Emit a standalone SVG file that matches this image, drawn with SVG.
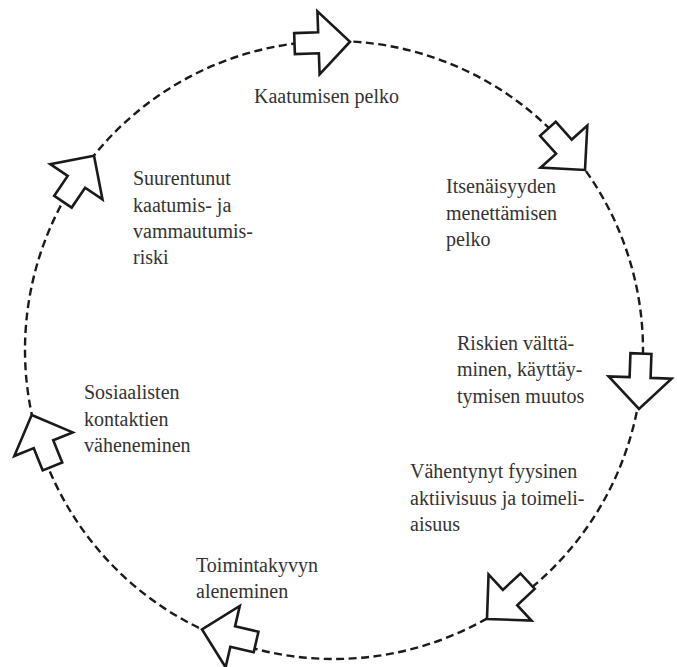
<svg xmlns="http://www.w3.org/2000/svg" width="677" height="667" viewBox="0 0 677 667">
<style>
.ring{fill:none;stroke:#1a1a1a;stroke-width:2.4;stroke-dasharray:8 4.5}
.arr{fill:#fff;stroke:#1a1a1a;stroke-width:2.6;stroke-linejoin:miter}
.lbl{fill:#333}
</style>
<defs>
<polygon id="arrow" class="arr" points="-55.5,-10.5 -31.5,-10.5 -31.5,-31.5 0,0 -31.5,31.5 -31.5,10.5 -55.5,10.5"/>
</defs>
<rect width="677" height="667" fill="#fff"/>
<g id="connectors">
<circle class="ring" cx="334" cy="350" r="309"/>
<use href="#arrow" transform="translate(350,41.7) rotate(-2)"/>
<use href="#arrow" transform="translate(585,170) rotate(48)"/>
<use href="#arrow" transform="translate(639,409) rotate(92)"/>
<use href="#arrow" transform="translate(487,619) rotate(137)"/>
<use href="#arrow" transform="translate(202,629.5) rotate(193)"/>
<use href="#arrow" transform="translate(31.7,415) rotate(248)"/>
<use href="#arrow" transform="translate(94,155.7) rotate(304)"/>
</g>
<g font-family="Liberation Serif, DejaVu Serif, serif" font-size="20">
<g id="node-kaatumisen-pelko">
<text class="lbl" x="254" y="102.5">Kaatumisen pelko</text>
</g>
<g id="node-itsenaisyyden">
<text class="lbl" x="446" y="193">Itsenäisyyden</text>
<text class="lbl" x="446" y="219.5">menettämisen</text>
<text class="lbl" x="446" y="246">pelko</text>
</g>
<g id="node-riskien">
<text class="lbl" x="457" y="349.5">Riskien välttä-</text>
<text class="lbl" x="457" y="376">minen, käyttäy-</text>
<text class="lbl" x="457" y="402.5">tymisen muutos</text>
</g>
<g id="node-vahentynyt">
<text class="lbl" x="410" y="478">Vähentynyt fyysinen</text>
<text class="lbl" x="410" y="504.5">aktiivisuus ja toimeli-</text>
<text class="lbl" x="410" y="531">aisuus</text>
</g>
<g id="node-toimintakyvyn">
<text class="lbl" x="196" y="571.5">Toimintakyvyn</text>
<text class="lbl" x="196" y="598">aleneminen</text>
</g>
<g id="node-sosiaalisten">
<text class="lbl" x="84" y="399">Sosiaalisten</text>
<text class="lbl" x="84" y="425.5">kontaktien</text>
<text class="lbl" x="84" y="452">väheneminen</text>
</g>
<g id="node-suurentunut">
<text class="lbl" x="133" y="185">Suurentunut</text>
<text class="lbl" x="133" y="211.5">kaatumis- ja</text>
<text class="lbl" x="133" y="238">vammautumis-</text>
<text class="lbl" x="133" y="264">riski</text>
</g>
</g>
</svg>
